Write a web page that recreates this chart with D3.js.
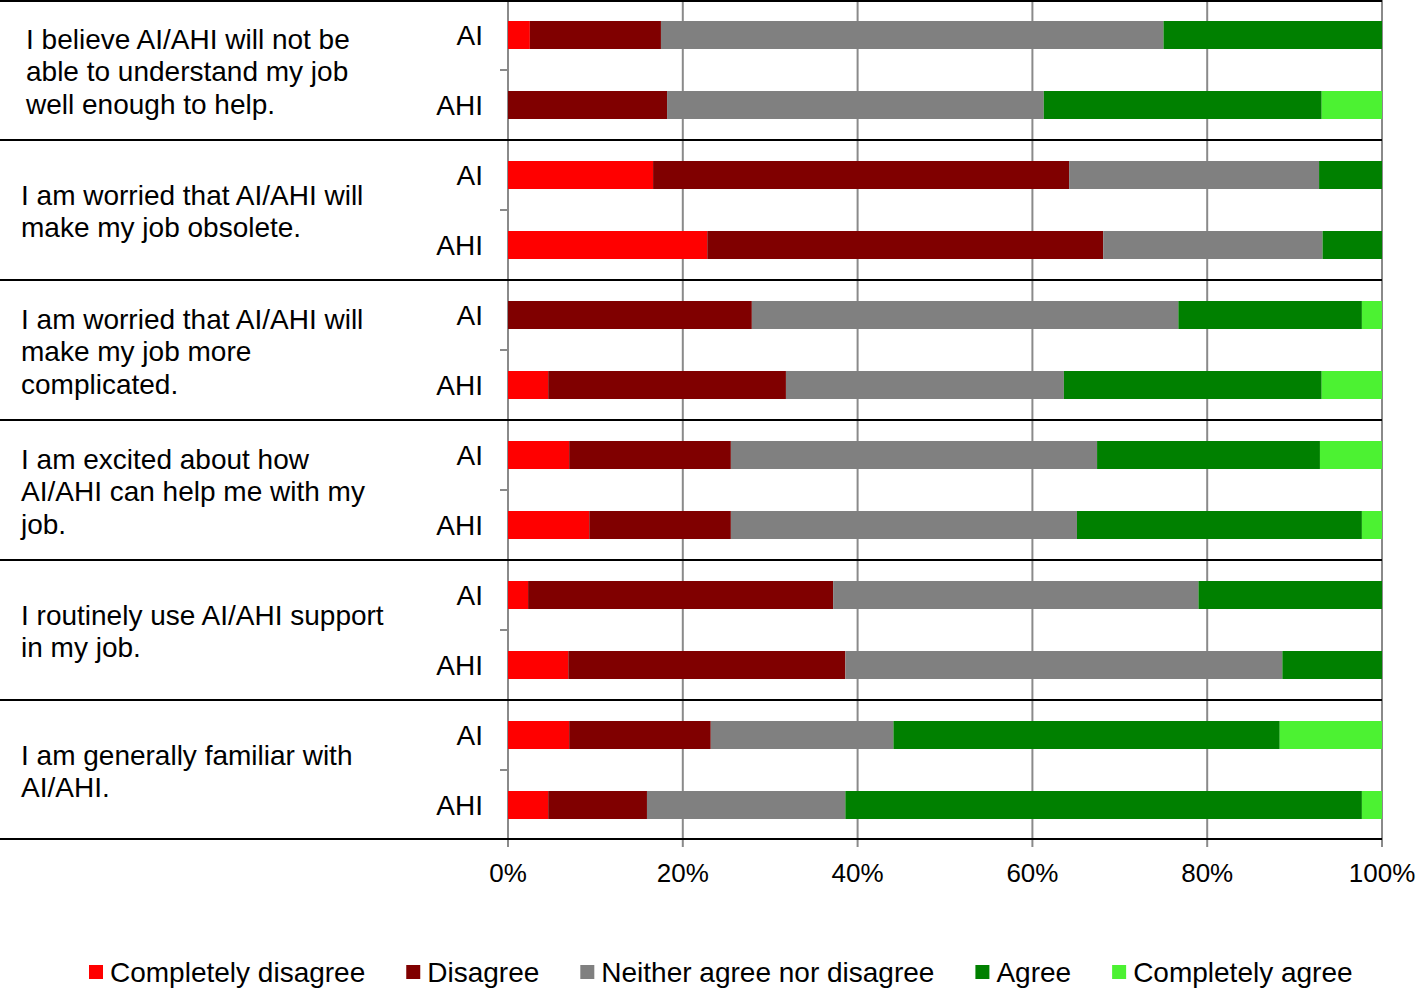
<!DOCTYPE html>
<html><head><meta charset="utf-8">
<script src="https://cdn.jsdelivr.net/npm/d3@7"></script>
<style>body{margin:0;background:#fff}svg{display:block;font-family:"Liberation Sans",Arial,sans-serif}</style>
</head><body><svg id="c" width="1417" height="988"></svg>
<script>
const questions = [
  ["I believe AI/AHI will not be", "able to understand my job", "well enough to help."],
  ["I am worried that AI/AHI will", "make my job obsolete."],
  ["I am worried that AI/AHI will", "make my job more", "complicated."],
  ["I am excited about how", "AI/AHI can help me with my", "job."],
  ["I routinely use AI/AHI support", "in my job."],
  ["I am generally familiar with", "AI/AHI."]
];
const subgroups = ["AI", "AHI"];
const categories = ["Completely disagree", "Disagree", "Neither agree nor disagree", "Agree", "Completely agree"];
const colors = ["#ff0000", "#800000", "#808080", "#008000", "#4cf232"];
// values per question: [AI row, AHI row], each in %
const completelyDisagree = [[2.5, 0], [16.6, 22.8], [0, 4.6], [7.0, 9.3], [2.3, 6.9], [7.0, 4.6]];
const disagree           = [[15.0, 18.2], [47.6, 45.3], [27.9, 27.2], [18.5, 16.2], [34.9, 31.7], [16.2, 11.3]];
const neither            = [[57.5, 43.1], [28.6, 25.1], [48.8, 31.8], [41.9, 39.6], [41.8, 50.0], [20.9, 22.7]];
const agree              = [[25.0, 31.8], [7.2, 6.8], [21.0, 29.5], [25.5, 32.6], [21.0, 11.4], [44.2, 59.1]];
const completelyAgree    = [[0, 6.9], [0, 0], [2.3, 6.9], [7.1, 2.3], [0, 0], [11.7, 2.3]];
const xTicks = [0, 20, 40, 60, 80, 100];

const series = [completelyDisagree, disagree, neither, agree, completelyAgree];
const rows = [];
questions.forEach((q, qi) => subgroups.forEach((s, si) => {
  const r = {key: qi + "-" + s, q: qi, s: s};
  categories.forEach((c, ci) => r[c] = series[ci][qi][si]);
  rows.push(r);
}));

const svg = d3.select("#c");
const L = 508, R = 1382, T = 0, B = 840;
const FS = 28;
const x = d3.scaleLinear().domain([0, 100]).range([L, R]);
const yG = d3.scaleBand().domain(d3.range(questions.length)).range([T, B]);
const yS = d3.scaleBand().domain(subgroups).range([0, yG.bandwidth()]).paddingInner(0.6).paddingOuter(0.3);

// gridlines
svg.append("g").selectAll("line").data(xTicks).join("line")
  .attr("x1", d => x(d)).attr("x2", d => x(d)).attr("y1", T).attr("y2", B + 7)
  .attr("stroke", "#8a8a8a").attr("stroke-width", 2);

// stacked bars
const stack = d3.stack().keys(categories)(rows);
svg.append("g").selectAll("g").data(stack).join("g")
  .attr("fill", (d, i) => colors[i])
  .selectAll("rect").data(d => d).join("rect")
  .attr("x", d => x(d[0])).attr("width", d => x(d[1]) - x(d[0]))
  .attr("y", d => yG(d.data.q) + yS(d.data.s)).attr("height", yS.bandwidth());

// group separators
const sepY = d => d === questions.length ? B - 1 : Math.max(1, yG(d));
svg.append("g").selectAll("line").data(d3.range(questions.length + 1)).join("line")
  .attr("x1", 0).attr("x2", R).attr("y1", sepY).attr("y2", sepY)
  .attr("stroke", "#000").attr("stroke-width", 2);

// minor tick between AI and AHI
svg.append("g").selectAll("line").data(d3.range(questions.length)).join("line")
  .attr("x1", L - 8).attr("x2", L).attr("y1", d => yG(d) + yG.bandwidth() / 2).attr("y2", d => yG(d) + yG.bandwidth() / 2)
  .attr("stroke", "#8a8a8a").attr("stroke-width", 2);

// subgroup labels
svg.append("g").selectAll("text").data(rows).join("text")
  .attr("x", 483).attr("y", d => yG(d.q) + yS(d.s) + yS.bandwidth() / 2)
  .attr("dy", "0.36em").attr("text-anchor", "end").attr("font-size", FS).text(d => d.s);

// question labels
const qg = svg.append("g").selectAll("text").data(questions).join("text")
  .attr("x", (d, i) => i === 0 ? 26 : 21)
  .attr("y", (d, i) => yG(i) + yG.bandwidth() / 2 + 1 - (d.length - 1) * 32.5 / 2)
  .attr("font-size", FS);
qg.selectAll("tspan").data(d => d).join("tspan")
  .attr("x", function() { return this.parentNode.getAttribute("x"); })
  .attr("dy", (d, i) => i === 0 ? "0.36em" : 32.5).text(d => d);

// x axis labels
svg.append("g").selectAll("text").data(xTicks).join("text")
  .attr("x", d => x(d)).attr("y", 873).attr("dy", "0.36em").attr("text-anchor", "middle")
  .attr("font-size", 26).text(d => d + "%");

// legend
const lg = svg.append("g");
let lx = 89;
categories.forEach((c, i) => {
  lg.append("rect").attr("x", lx).attr("y", 965).attr("width", 14).attr("height", 14).attr("fill", colors[i]);
  const t = lg.append("text").attr("x", lx + 21).attr("y", 972).attr("dy", "0.36em").attr("font-size", FS).text(c);
  lx += 21 + t.node().getComputedTextLength() + 41;
});
</script></body></html>
